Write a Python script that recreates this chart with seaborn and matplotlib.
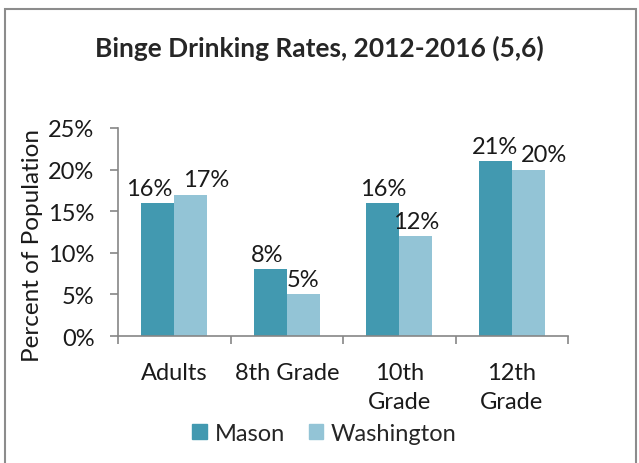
"""Binge drinking rates bar chart, Excel-style."""

import numpy as np
import pandas as pd

import matplotlib
matplotlib.use("Agg")
import matplotlib.pyplot as plt
import matplotlib.patches as mpatches
from matplotlib.ticker import FixedLocator, PercentFormatter
import seaborn as sns

categories = ["Adults", "8th Grade", "10th\nGrade", "12th\nGrade"]
series = ["Mason", "Washington"]
mason = [16, 8, 16, 21]
washington = [17, 5, 12, 20]
y_ticks = [0, 5, 10, 15, 20, 25]

colors = {"Mason": "#4299B0", "Washington": "#93C4D6"}
axis_gray = "#868686"
text_color = "#1a1a1a"
# horizontal nudges (points) Excel applied to avoid label collisions
label_dx = {"Mason": [-6, -2, 0, 0], "Washington": [11, 0, 0, 11.5]}

df = pd.DataFrame({
    "category": categories * 2,
    "series": ["Mason"] * len(categories) + ["Washington"] * len(categories),
    "value": mason + washington,
})

sns.set_style("white")
plt.rcParams["font.family"] = ["Lato", "DejaVu Sans"]

fig = plt.figure(figsize=(6.39, 4.64), dpi=100)
ax = fig.add_axes([0.1847, 0.2737, 0.7043, 0.4483])

sns.barplot(
    data=df, x="category", y="value", hue="series",
    order=categories, hue_order=series, palette=colors,
    width=0.59, saturation=1, edgecolor="none", legend=False, ax=ax,
)

# Data labels
for container, name in zip(ax.containers, series):
    anns = ax.bar_label(container, labels=[f"{v:.0f}%" for v in container.datavalues],
                        padding=3, fontsize=17, color=text_color)
    for ann, dx in zip(anns, label_dx[name]):
        ann.xyann = (dx, 3)

ax.set_ylim(0, 25)
ax.set_xlim(-0.5, len(categories) - 0.5)
ax.yaxis.set_major_locator(FixedLocator(y_ticks))
ax.yaxis.set_major_formatter(PercentFormatter(decimals=0))

# Excel-style axes
for side in ["top", "right"]:
    ax.spines[side].set_visible(False)
for side in ["left", "bottom"]:
    ax.spines[side].set_color(axis_gray)
    ax.spines[side].set_linewidth(1.2)

ax.tick_params(axis="y", direction="out", length=6, width=1.2, color=axis_gray,
               labelsize=17, pad=11, left=True, labelcolor=text_color)
ax.tick_params(axis="x", which="major", length=0, labelsize=17, pad=19,
               labelcolor=text_color)
ax.set_xticks(np.arange(-0.5, len(categories)), minor=True)
ax.tick_params(axis="x", which="minor", direction="out", length=6, width=1.2,
               color=axis_gray, bottom=True)
for lab in ax.get_xticklabels():
    lab.set_verticalalignment("top")
    lab.set_linespacing(1.45)

ax.set_xlabel("")
ax.set_ylabel("Percent of Population", fontsize=17.5, color=text_color, va="center")
ax.yaxis.set_label_coords(-0.19, 0.44)

fig.text(0.5, 0.895, "Binge Drinking Rates, 2012-2016 (5,6)", ha="center", va="center",
         fontsize=19, fontweight="bold")

handles = [mpatches.Patch(color=colors[s], label=s) for s in series]
fig.legend(handles=handles, loc="center", bbox_to_anchor=(0.508, 0.063), ncol=2,
           frameon=False, fontsize=17, handlelength=0.6, handleheight=0.6,
           handletextpad=0.35, columnspacing=1.0)

# Chart border
border = mpatches.Rectangle((5 / 639, -0.05), 631 / 639, 1 - 10 / 464 + 0.05,
                            transform=fig.transFigure, fill=False,
                            edgecolor="#8c8c8c", linewidth=1.5)
fig.patches.append(border)

fig.savefig("out.png", dpi=100)
plt.close(fig)
